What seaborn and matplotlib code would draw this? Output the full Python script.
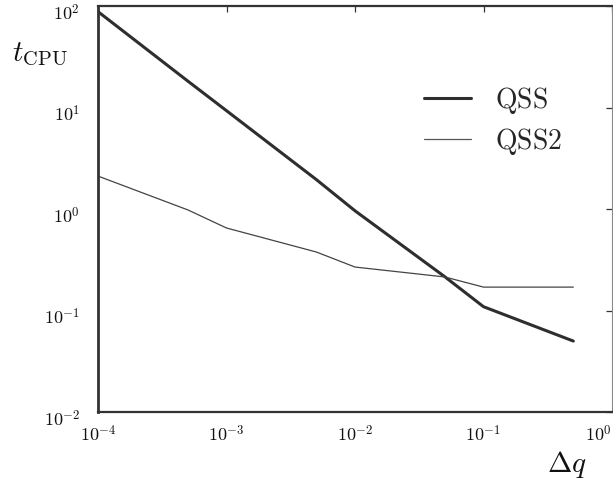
import matplotlib
matplotlib.use("Agg")
import matplotlib.pyplot as plt
import matplotlib.ticker as mticker
import matplotlib.transforms as mtransforms
from matplotlib.lines import Line2D
import numpy as np
import pandas as pd
import seaborn as sns

# ---- data ----
dq = [1e-4, 5e-4, 1e-3, 5e-3, 1e-2, 5e-2, 1e-1, 5e-1]
qss = [88, 18.2, 9.3, 1.95, 0.96, 0.215, 0.109, 0.050]
qss2 = [2.11, 0.98, 0.65, 0.377, 0.268, 0.214, 0.17, 0.17]
methods = ["QSS", "QSS2"]
xticks = [1e-4, 1e-3, 1e-2, 1e-1, 1e0]
xticklabels = [r"$10^{-4}$", r"$10^{-3}$", r"$10^{-2}$", r"$10^{-1}$", r"$10^{0}$"]
yticks = [1e-2, 1e-1, 1e0, 1e1, 1e2]
yticklabels = [r"$10^{-2}$", r"$10^{-1}$", r"$10^{0}$", r"$10^{1}$", r"$10^{2}$"]

df = pd.DataFrame({
    "dq": dq * 2,
    "t": qss + qss2,
    "method": [methods[0]] * len(dq) + [methods[1]] * len(dq),
})

sns.set_theme(style="white")
plt.rcParams["mathtext.fontset"] = "cm"
plt.rcParams["font.family"] = ["DejaVu Serif"]

fig = plt.figure(figsize=(6.13, 4.87), dpi=100)
ax = fig.add_axes([98 / 613, 75 / 487, 514 / 613, 406 / 487])

sns.lineplot(data=df, x="dq", y="t", hue="method", size="method",
             sizes={"QSS": 2.2, "QSS2": 0.9},
             palette={"QSS": "#2e2e2e", "QSS2": "#444444"},
             ax=ax, legend=False)

ax.set_xscale("log")
ax.set_yscale("log")
ax.set_xlim(1e-4, 1e0)
ax.set_ylim(1e-2, 1e2)

ax.xaxis.set_major_locator(mticker.FixedLocator(xticks))
ax.yaxis.set_major_locator(mticker.FixedLocator(yticks))
ax.xaxis.set_minor_locator(mticker.NullLocator())
ax.yaxis.set_minor_locator(mticker.NullLocator())
ax.set_xticklabels(xticklabels, fontsize=13)
ax.set_yticklabels(yticklabels, fontsize=13)
ax.tick_params(axis="both", which="major", direction="in", length=4, width=0.9,
               color="#333333", top=True, right=True, labelcolor="#111111")
ax.tick_params(axis="x", pad=9)
ax.tick_params(axis="y", pad=13)
ax.get_xticklabels()[-1].set_horizontalalignment("right")

shift = mtransforms.ScaledTranslation(0, -6 / 100, fig.dpi_scale_trans)
for lab in ax.get_yticklabels():
    lab.set_transform(lab.get_transform() + shift)

for side, lw, col in [("left", 2.0, "#333333"), ("top", 1.6, "#333333"),
                      ("bottom", 1.6, "#333333"), ("right", 0.8, "#888888")]:
    ax.spines[side].set_visible(True)
    ax.spines[side].set_linewidth(lw)
    ax.spines[side].set_color(col)

ax.set_xlabel("")
ax.set_ylabel("")
fig.text(12 / 613, 1 - 54 / 487, r"$t_{\mathrm{CPU}}$", fontsize=21,
         ha="left", va="center", color="#111111")
fig.text(587 / 613, 1 - 465 / 487, r"$\Delta q$", fontsize=21,
         ha="right", va="center", color="#111111")

handles = [Line2D([], [], color="#2e2e2e", lw=2.2),
           Line2D([], [], color="#555555", lw=0.9)]
ax.legend(handles, [r"$\mathrm{QSS}$", r"$\mathrm{QSS2}$"], frameon=False,
          fontsize=20, loc="upper left", bbox_to_anchor=((424 - 98) / 514, 1 - (85 - 6) / 406),
          borderpad=0, borderaxespad=0, handlelength=1.7, handletextpad=0.85,
          labelspacing=0.35)

fig.savefig("out.png", dpi=100)
